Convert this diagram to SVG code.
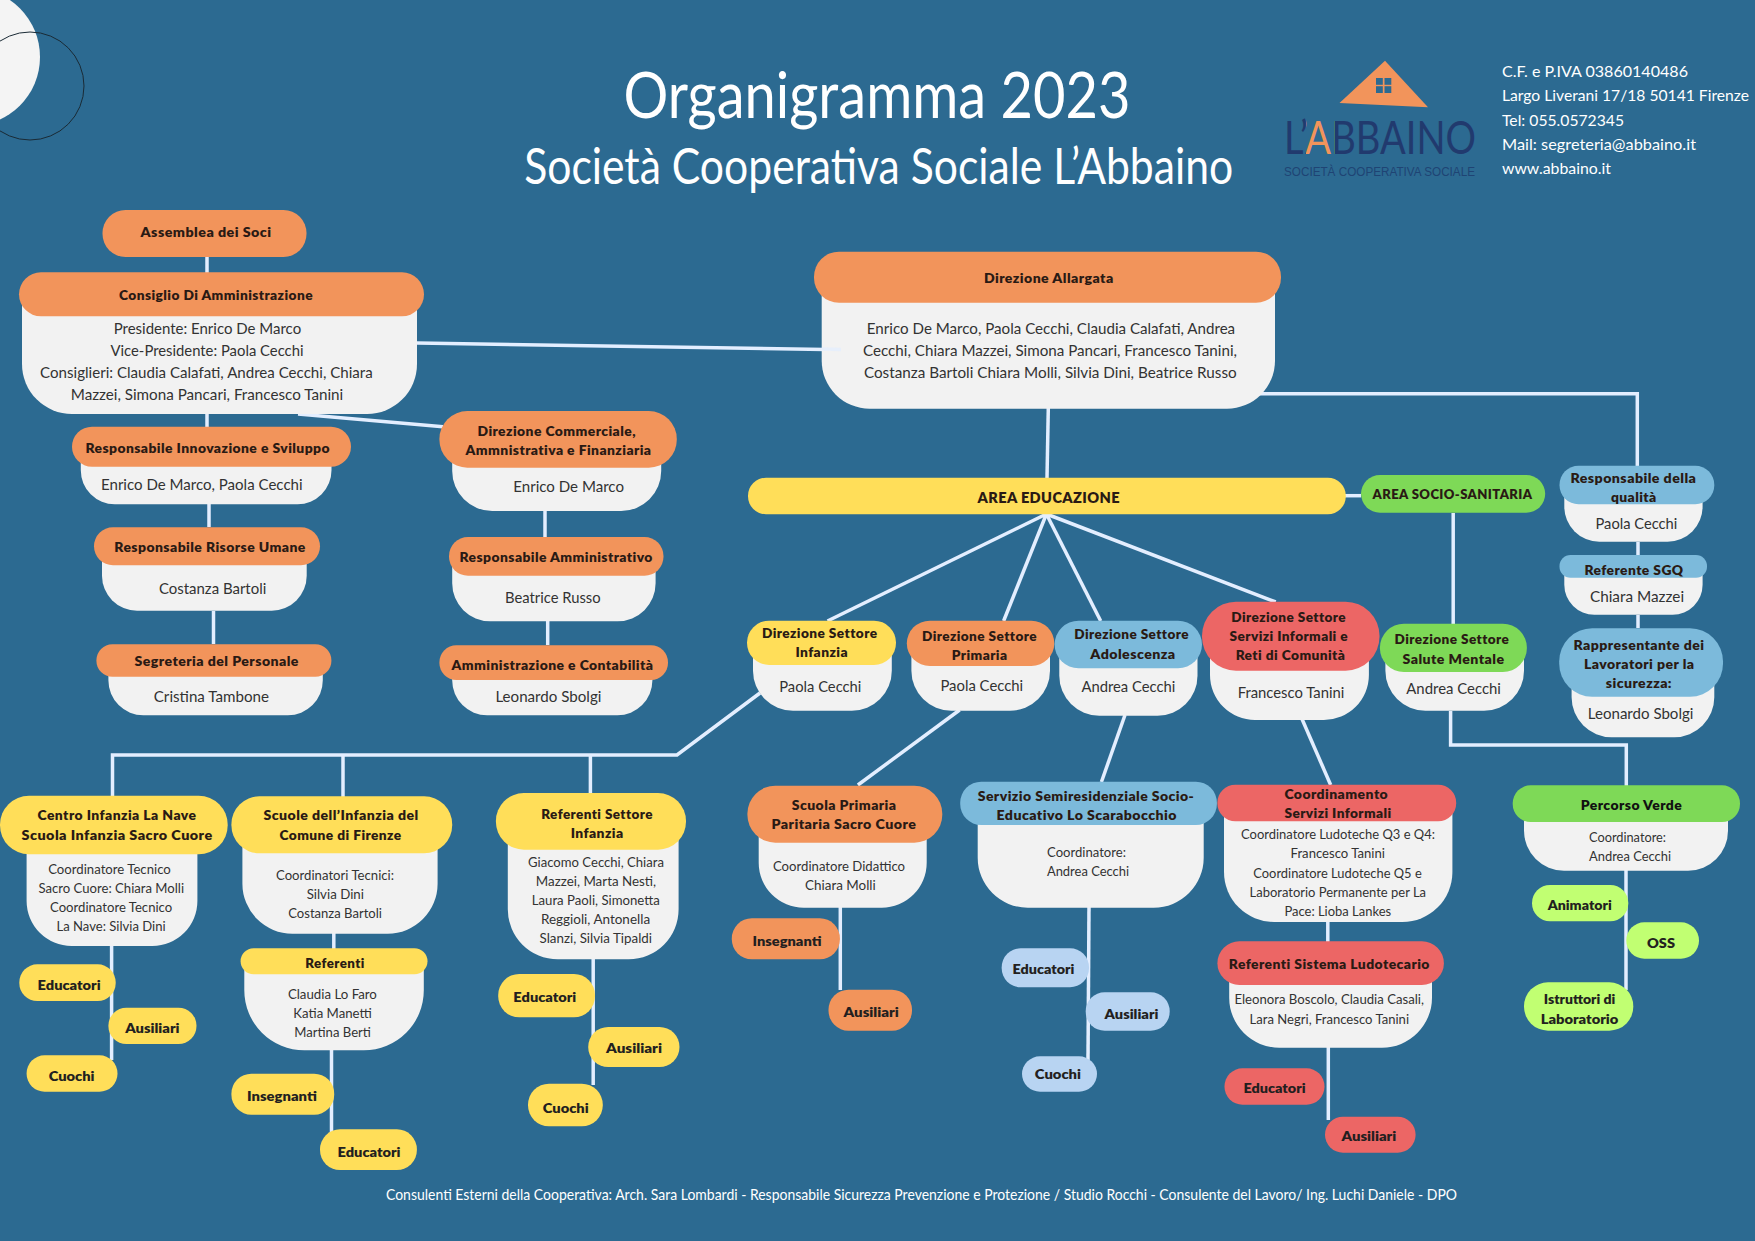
<svg xmlns="http://www.w3.org/2000/svg" width="1755" height="1241" viewBox="0 0 1755 1241">
<style>
text{font-family:"Lato","Noto Sans",sans-serif;text-anchor:middle}
.h,.c,.b,.s{transform:translateY(1px)}
.h{font-size:13px;font-weight:800;fill:#2a1a14;letter-spacing:.4px}
.c{font-size:13px;font-weight:800;fill:#231f20}
.b{font-size:15px;fill:#333}
.s{font-size:14px;fill:#333}
.w{fill:#f2f2f2}
.o{fill:#f2945b}.y{fill:#ffde59}.l{fill:#7cbadb}.r{fill:#ec6665}.g{fill:#7ed957}.p{fill:#b8d4f2}.n{fill:#c1ff72}
.t{fill:#fff;font-weight:400}
.i{fill:#fff;font-size:16px;text-anchor:start}
.line{fill:none;stroke:#e3eeff;stroke-width:3.5}
</style>
<defs>
<linearGradient id="logoFill" gradientUnits="userSpaceOnUse" x1="1284" y1="0" x2="1476" y2="0">
<stop offset=".1146" stop-color="#213a6e"/><stop offset=".1146" stop-color="#f2945b"/><stop offset=".2656" stop-color="#f2945b"/><stop offset=".2656" stop-color="#213a6e"/>
</linearGradient>
</defs>
<rect width="1755" height="1241" fill="#2c6a91"/>
<circle cx="-29" cy="57" r="69" fill="#f4f4f4"/>
<circle cx="30" cy="86" r="54" fill="none" stroke="#1a2a35" stroke-width="1"/>
<text class="t" x="877" y="117.7" font-size="64" textLength="507" lengthAdjust="spacingAndGlyphs">Organigramma 2023</text>
<text class="t" x="878.7" y="184.3" font-size="50" textLength="709" lengthAdjust="spacingAndGlyphs">Società Cooperativa Sociale L’Abbaino</text>
<g id="logo">
<polygon points="1385,60.8 1339.5,103 1428,107.3" fill="#f2945b"/>
<g fill="#2c6a91"><rect x="1376" y="78" width="6.8" height="6.8"/><rect x="1384.5" y="78" width="6.8" height="6.8"/><rect x="1376" y="86.2" width="6.8" height="6.8"/><rect x="1384.5" y="86.2" width="6.8" height="6.8"/></g>
<text x="1380" y="154" font-size="46" fill="url(#logoFill)" textLength="192" lengthAdjust="spacingAndGlyphs">L’ABBAINO</text>
<text x="1379.5" y="175.6" font-size="12" fill="#1f4474" textLength="191" lengthAdjust="spacingAndGlyphs" style="font-family:'Liberation Sans',sans-serif">SOCIETÀ COOPERATIVA SOCIALE</text>
</g>
<g id="contacts">
<text class="i" x="1502" y="76.5" textLength="186" lengthAdjust="spacingAndGlyphs">C.F. e P.IVA 03860140486</text>
<text class="i" x="1502" y="101" textLength="247" lengthAdjust="spacingAndGlyphs">Largo Liverani 17/18 50141 Firenze</text>
<text class="i" x="1502" y="126" textLength="122" lengthAdjust="spacingAndGlyphs">Tel: 055.0572345</text>
<text class="i" x="1502" y="150" textLength="194" lengthAdjust="spacingAndGlyphs">Mail: segreteria@abbaino.it</text>
<text class="i" x="1502" y="173.6" textLength="109" lengthAdjust="spacingAndGlyphs">www.abbaino.it</text>
</g>
<g id="connectors" class="line">
<path d="M207 257V273"/>
<path d="M417 343L841 349.7"/>
<path d="M207 414V427"/>
<path d="M298 414L443 426.7"/>
<path d="M209 504V527"/>
<path d="M213.5 611V644"/>
<path d="M545 511V537"/>
<path d="M547.7 621V645"/>
<path d="M1048.3 408L1047 478"/>
<path d="M1240 393.7H1637.3V466"/>
<path d="M1345 495.7H1361"/>
<path d="M1453.2 513V624"/>
<path d="M1638 542V555"/>
<path d="M1638 615V628"/>
<path d="M1046.4 514L827.5 621"/>
<path d="M1046.4 514L1003.6 621"/>
<path d="M1046.4 514L1100.7 621"/>
<path d="M1046.4 514L1275.7 602"/>
<path d="M760 693L677 755H112.5V796"/>
<path d="M343 755V797"/>
<path d="M590.4 755V793"/>
<path d="M959.6 710L857.9 785"/>
<path d="M1125 715L1101.4 782"/>
<path d="M1302 719L1330.7 785"/>
<path d="M1450.6 711V745H1626.3V786"/>
<path d="M111.6 946V1060"/>
<path d="M333.8 933V949"/>
<path d="M331.5 1050V1135"/>
<path d="M593.2 959V1085"/>
<path d="M840.3 907V990"/>
<path d="M1089 907L1088 1060"/>
<path d="M1327.8 921V942"/>
<path d="M1328.3 1047V1120"/>
<path d="M1626 870V990"/>
</g>

<g id="assemblea"><rect class="o" x="102.5" y="210" width="204" height="47" rx="23"/><text class="h" x="206" y="236" textLength="131" lengthAdjust="spacingAndGlyphs">Assemblea dei Soci</text></g>

<g id="consiglio"><path class="w" d="M22 294H417V364A50 50 0 0 1 367 414H72A50 50 0 0 1 22 364Z"/><rect class="o" x="19" y="272.3" width="405" height="44" rx="22"/>
<text class="h" x="216" y="299.3" textLength="194" lengthAdjust="spacingAndGlyphs">Consiglio Di Amministrazione</text>
<text class="b" x="207.4" y="333.3" textLength="187.5" lengthAdjust="spacingAndGlyphs">Presidente: Enrico De Marco</text>
<text class="b" x="207" y="355.3" textLength="193" lengthAdjust="spacingAndGlyphs">Vice-Presidente: Paola Cecchi</text>
<text class="b" x="206.4" y="377.3" textLength="332.6" lengthAdjust="spacingAndGlyphs">Consiglieri: Claudia Calafati, Andrea Cecchi, Chiara</text>
<text class="b" x="207" y="399.3" textLength="272.5" lengthAdjust="spacingAndGlyphs">Mazzei, Simona Pancari, Francesco Tanini</text></g>

<g id="innovazione"><path class="w" d="M80.8 446H331.5V470A34 34 0 0 1 297.5 504.3H115A34 34 0 0 1 80.8 470Z"/><rect class="o" x="72" y="426.7" width="279" height="40" rx="20"/>
<text class="h" x="207.7" y="452" textLength="244.6" lengthAdjust="spacingAndGlyphs">Responsabile Innovazione e Sviluppo</text>
<text class="b" x="201.8" y="489.3" textLength="201.6" lengthAdjust="spacingAndGlyphs">Enrico De Marco, Paola Cecchi</text></g>

<g id="risorse"><path class="w" d="M102 546H306.7V575.7A35 35 0 0 1 271.7 610.7H137A35 35 0 0 1 102 575.7Z"/><rect class="o" x="94" y="527.3" width="226" height="38" rx="19"/>
<text class="h" x="210" y="551" textLength="191.5" lengthAdjust="spacingAndGlyphs">Responsabile Risorse Umane</text>
<text class="b" x="212.6" y="593.3" textLength="107.4" lengthAdjust="spacingAndGlyphs">Costanza Bartoli</text></g>

<g id="segreteria"><path class="w" d="M108.4 660H322.8V680.3A35 35 0 0 1 287.8 715.3H143.4A35 35 0 0 1 108.4 680.3Z"/><rect class="o" x="96.4" y="644.3" width="235" height="32.4" rx="16"/>
<text class="h" x="216.7" y="665" textLength="164.4" lengthAdjust="spacingAndGlyphs">Segreteria del Personale</text>
<text class="b" x="211.4" y="701" textLength="115.2" lengthAdjust="spacingAndGlyphs">Cristina Tambone</text></g>

<g id="commerciale"><path class="w" d="M452.2 440H661.2V471A40 40 0 0 1 621.2 511H492.2A40 40 0 0 1 452.2 471Z"/><rect class="o" x="439.4" y="411" width="237.4" height="56.7" rx="28"/>
<text class="h" x="556.7" y="435" textLength="158.4" lengthAdjust="spacingAndGlyphs">Direzione Commerciale,</text>
<text class="h" x="558.5" y="454" textLength="185.9" lengthAdjust="spacingAndGlyphs">Ammnistrativa e Finanziaria</text>
<text class="b" x="568.6" y="491" textLength="110.7" lengthAdjust="spacingAndGlyphs">Enrico De Marco</text></g>

<g id="amministrativo"><path class="w" d="M452.2 556H655.6V583.3A38 38 0 0 1 617.6 621.3H490.2A38 38 0 0 1 452.2 583.3Z"/><rect class="o" x="449" y="537" width="214.5" height="38.7" rx="19"/>
<text class="h" x="556.2" y="561" textLength="193.3" lengthAdjust="spacingAndGlyphs">Responsabile Amministrativo</text>
<text class="b" x="552.8" y="602" textLength="95.6" lengthAdjust="spacingAndGlyphs">Beatrice Russo</text></g>

<g id="contabilita"><path class="w" d="M452.2 662H652.4V680.3A35 35 0 0 1 617.4 715.3H487.2A35 35 0 0 1 452.2 680.3Z"/><rect class="o" x="439.4" y="645.3" width="228.6" height="34.7" rx="17"/>
<text class="h" x="552.4" y="669" textLength="202" lengthAdjust="spacingAndGlyphs">Amministrazione e Contabilità</text>
<text class="b" x="548.4" y="701" textLength="106" lengthAdjust="spacingAndGlyphs">Leonardo Sbolgi</text></g>

<g id="allargata"><path class="w" d="M821.7 277H1275V360.7A48 48 0 0 1 1227 408.7H869.7A48 48 0 0 1 821.7 360.7Z"/><rect class="o" x="814" y="251.7" width="467" height="51" rx="25"/>
<text class="h" x="1048.8" y="282.3" textLength="129.7" lengthAdjust="spacingAndGlyphs">Direzione Allargata</text>
<text class="b" x="1051" y="333.3" textLength="368.3" lengthAdjust="spacingAndGlyphs">Enrico De Marco, Paola Cecchi, Claudia Calafati, Andrea</text>
<text class="b" x="1050" y="355.3" textLength="374" lengthAdjust="spacingAndGlyphs">Cecchi, Chiara Mazzei, Simona Pancari, Francesco Tanini,</text>
<text class="b" x="1050.3" y="377.3" textLength="372.7" lengthAdjust="spacingAndGlyphs">Costanza Bartoli Chiara Molli, Silvia Dini, Beatrice Russo</text></g>

<g id="area-educazione"><rect class="y" x="748" y="477.7" width="597.8" height="36.6" rx="18"/><text class="h" style="font-size:15px" x="1048.7" y="502" textLength="142.5" lengthAdjust="spacingAndGlyphs">AREA EDUCAZIONE</text></g>
<g id="area-socio"><rect class="g" x="1361" y="475" width="184.2" height="37.7" rx="19"/><text class="h" x="1452.5" y="498.3" textLength="160" lengthAdjust="spacingAndGlyphs">AREA SOCIO-SANITARIA</text></g>

<g id="dir-infanzia"><path class="w" d="M753 642H891.8V670.7A40 40 0 0 1 851.8 710.7H793A40 40 0 0 1 753 670.7Z"/><rect class="y" x="747" y="620.7" width="149" height="44.3" rx="22"/>
<text class="h" x="819.7" y="637" textLength="115.5" lengthAdjust="spacingAndGlyphs">Direzione Settore</text>
<text class="h" x="821.7" y="656" textLength="52.6" lengthAdjust="spacingAndGlyphs">Infanzia</text>
<text class="b" x="820.3" y="691" textLength="82.1" lengthAdjust="spacingAndGlyphs">Paola Cecchi</text></g>

<g id="dir-primaria"><path class="w" d="M911.4 643H1050V670.7A40 40 0 0 1 1010 710.7H951.4A40 40 0 0 1 911.4 670.7Z"/><rect class="o" x="906.8" y="620.7" width="147.5" height="45.3" rx="23"/>
<text class="h" x="979.5" y="640" textLength="115" lengthAdjust="spacingAndGlyphs">Direzione Settore</text>
<text class="h" x="979.6" y="659" textLength="55.7" lengthAdjust="spacingAndGlyphs">Primaria</text>
<text class="b" x="981.8" y="690" textLength="82.8" lengthAdjust="spacingAndGlyphs">Paola Cecchi</text></g>

<g id="dir-adolescenza"><path class="w" d="M1059.3 644H1197.5V675.7A40 40 0 0 1 1157.5 715.7H1099.3A40 40 0 0 1 1059.3 675.7Z"/><rect class="l" x="1054.6" y="620.7" width="147.4" height="47.6" rx="24"/>
<text class="h" x="1131.6" y="638" textLength="114.7" lengthAdjust="spacingAndGlyphs">Direzione Settore</text>
<text class="h" x="1133" y="658" textLength="85.3" lengthAdjust="spacingAndGlyphs">Adolescenza</text>
<text class="b" x="1128.4" y="691" textLength="94" lengthAdjust="spacingAndGlyphs">Andrea Cecchi</text></g>

<g id="dir-informali"><path class="w" d="M1210 636H1368.9V675A45 45 0 0 1 1323.9 720H1255A45 45 0 0 1 1210 675Z"/><rect class="r" x="1202" y="601.7" width="177.5" height="69" rx="34"/>
<text class="h" x="1288.7" y="620.7" textLength="114.7" lengthAdjust="spacingAndGlyphs">Direzione Settore</text>
<text class="h" x="1288.8" y="640" textLength="118.5" lengthAdjust="spacingAndGlyphs">Servizi Informali e</text>
<text class="h" x="1290.5" y="659" textLength="109.7" lengthAdjust="spacingAndGlyphs">Reti di Comunità</text>
<text class="b" x="1291" y="696.7" textLength="106.7" lengthAdjust="spacingAndGlyphs">Francesco Tanini</text></g>

<g id="dir-salute"><path class="w" d="M1385.4 648H1524V670.7A40 40 0 0 1 1484 710.7H1425.4A40 40 0 0 1 1385.4 670.7Z"/><rect class="g" x="1379.9" y="623.7" width="147" height="48.3" rx="24"/>
<text class="h" x="1451.9" y="643" textLength="114.8" lengthAdjust="spacingAndGlyphs">Direzione Settore</text>
<text class="h" x="1453.5" y="663" textLength="101.9" lengthAdjust="spacingAndGlyphs">Salute Mentale</text>
<text class="b" x="1453.6" y="693.3" textLength="94.6" lengthAdjust="spacingAndGlyphs">Andrea Cecchi</text></g>

<g id="qualita"><path class="w" d="M1564.3 485H1702.6V506.7A35 35 0 0 1 1667.6 541.7H1599.3A35 35 0 0 1 1564.3 506.7Z"/><rect class="l" x="1559.5" y="465.7" width="154.8" height="38.6" rx="19"/>
<text class="h" x="1633.4" y="482" textLength="125.8" lengthAdjust="spacingAndGlyphs">Responsabile della</text>
<text class="h" x="1633.8" y="501" textLength="45.8" lengthAdjust="spacingAndGlyphs">qualità</text>
<text class="b" x="1636.4" y="528.3" textLength="81.8" lengthAdjust="spacingAndGlyphs">Paola Cecchi</text></g>

<g id="sgq"><path class="w" d="M1564.3 566H1702.6V584.7A30 30 0 0 1 1672.6 614.7H1594.3A30 30 0 0 1 1564.3 584.7Z"/><rect class="l" x="1559.5" y="555" width="147.5" height="22.7" rx="11"/>
<text class="h" x="1634" y="573.7" textLength="99" lengthAdjust="spacingAndGlyphs">Referente SGQ</text>
<text class="b" x="1637" y="601.3" textLength="94.2" lengthAdjust="spacingAndGlyphs">Chiara Mazzei</text></g>

<g id="sicurezza"><path class="w" d="M1571.6 662H1714.3V697.3A40 40 0 0 1 1674.3 737.3H1611.6A40 40 0 0 1 1571.6 697.3Z"/><rect class="l" x="1559.2" y="628.3" width="163.8" height="68.4" rx="33"/>
<text class="h" x="1639" y="649" textLength="130.9" lengthAdjust="spacingAndGlyphs">Rappresentante dei</text>
<text class="h" x="1639.2" y="668" textLength="110.5" lengthAdjust="spacingAndGlyphs">Lavoratori per la</text>
<text class="h" x="1638.9" y="687" textLength="66.3" lengthAdjust="spacingAndGlyphs">sicurezza:</text>
<text class="b" x="1640.6" y="718.3" textLength="105.6" lengthAdjust="spacingAndGlyphs">Leonardo Sbolgi</text></g>

<g id="centro-infanzia"><path class="w" d="M26.6 825H197.4V901A45 45 0 0 1 152.4 946H71.6A45 45 0 0 1 26.6 901Z"/><rect class="y" x="0" y="795.7" width="227.7" height="58.6" rx="29"/>
<text class="h" x="117" y="819" textLength="158.9" lengthAdjust="spacingAndGlyphs">Centro Infanzia La Nave</text>
<text class="h" x="117.1" y="839.3" textLength="191" lengthAdjust="spacingAndGlyphs">Scuola Infanzia Sacro Cuore</text>
<text class="s" x="109.5" y="872.7" textLength="122.6" lengthAdjust="spacingAndGlyphs">Coordinatore Tecnico</text>
<text class="s" x="111.3" y="891.7" textLength="145.5" lengthAdjust="spacingAndGlyphs">Sacro Cuore: Chiara Molli</text>
<text class="s" x="111.1" y="910.7" textLength="122.2" lengthAdjust="spacingAndGlyphs">Coordinatore Tecnico</text>
<text class="s" x="111.1" y="930.3" textLength="109.2" lengthAdjust="spacingAndGlyphs">La Nave: Silvia Dini</text></g>
<g id="c1-educatori"><rect class="y" x="19.3" y="964.3" width="96.4" height="36.7" rx="18"/><text class="c" x="69.1" y="988.7" textLength="63" lengthAdjust="spacingAndGlyphs">Educatori</text></g>
<g id="c1-ausiliari"><rect class="y" x="108.4" y="1007.7" width="88.1" height="36.3" rx="18"/><text class="c" x="152.4" y="1032" textLength="54.2" lengthAdjust="spacingAndGlyphs">Ausiliari</text></g>
<g id="c1-cuochi"><rect class="y" x="26.6" y="1055.3" width="90.9" height="36.4" rx="18"/><text class="c" x="71.6" y="1080" textLength="45.9" lengthAdjust="spacingAndGlyphs">Cuochi</text></g>

<g id="scuole-infanzia"><path class="w" d="M242.4 825H437.6V883.7A50 50 0 0 1 387.6 933.7H292.4A50 50 0 0 1 242.4 883.7Z"/><rect class="y" x="231.4" y="796.3" width="220.8" height="57" rx="28"/>
<text class="h" x="341.1" y="819" textLength="155.2" lengthAdjust="spacingAndGlyphs">Scuole dell’Infanzia del</text>
<text class="h" x="340.6" y="839.3" textLength="122.1" lengthAdjust="spacingAndGlyphs">Comune di Firenze</text>
<text class="s" x="335" y="879" textLength="118" lengthAdjust="spacingAndGlyphs">Coordinatori Tecnici:</text>
<text class="s" x="335.3" y="898" textLength="57.3" lengthAdjust="spacingAndGlyphs">Silvia Dini</text>
<text class="s" x="335.1" y="917" textLength="93.7" lengthAdjust="spacingAndGlyphs">Costanza Bartoli</text></g>
<g id="referenti"><path class="w" d="M244.3 961H423.8V990.3A60 60 0 0 1 363.8 1050.3H304.3A60 60 0 0 1 244.3 990.3Z"/><rect class="y" x="240.6" y="948.3" width="186.9" height="26" rx="13"/>
<text class="h" x="335" y="967" textLength="59.3" lengthAdjust="spacingAndGlyphs">Referenti</text>
<text class="s" x="332.4" y="998" textLength="89" lengthAdjust="spacingAndGlyphs">Claudia Lo Faro</text>
<text class="s" x="332.6" y="1017" textLength="78.5" lengthAdjust="spacingAndGlyphs">Katia Manetti</text>
<text class="s" x="332.6" y="1036" textLength="76.7" lengthAdjust="spacingAndGlyphs">Martina Berti</text></g>
<g id="c2-insegnanti"><rect class="y" x="231.4" y="1073.7" width="102.8" height="41" rx="20"/><text class="c" x="281.9" y="1100" textLength="69.8" lengthAdjust="spacingAndGlyphs">Insegnanti</text></g>
<g id="c2-educatori"><rect class="y" x="320" y="1129.3" width="96.9" height="40.7" rx="20"/><text class="c" x="369" y="1156.3" textLength="63" lengthAdjust="spacingAndGlyphs">Educatori</text></g>

<g id="referenti-settore"><path class="w" d="M507.8 821H678.6V909.3A50 50 0 0 1 628.6 959.3H557.8A50 50 0 0 1 507.8 909.3Z"/><rect class="y" x="495.9" y="793" width="190.1" height="56.7" rx="28"/>
<text class="h" x="597.1" y="817.7" textLength="111.6" lengthAdjust="spacingAndGlyphs">Referenti Settore</text>
<text class="h" x="597.1" y="837" textLength="52.8" lengthAdjust="spacingAndGlyphs">Infanzia</text>
<text class="s" x="596" y="866" textLength="135.9" lengthAdjust="spacingAndGlyphs">Giacomo Cecchi, Chiara</text>
<text class="s" x="596" y="885" textLength="120.3" lengthAdjust="spacingAndGlyphs">Mazzei, Marta Nesti,</text>
<text class="s" x="595.8" y="904" textLength="128.1" lengthAdjust="spacingAndGlyphs">Laura Paoli, Simonetta</text>
<text class="s" x="595.5" y="923" textLength="109.2" lengthAdjust="spacingAndGlyphs">Reggioli, Antonella</text>
<text class="s" x="595.8" y="942" textLength="112.5" lengthAdjust="spacingAndGlyphs">Slanzi, Silvia Tipaldi</text></g>
<g id="c3-educatori"><rect class="y" x="498.2" y="974" width="96.8" height="43.3" rx="21"/><text class="c" x="544.8" y="1001.3" textLength="62.9" lengthAdjust="spacingAndGlyphs">Educatori</text></g>
<g id="c3-ausiliari"><rect class="y" x="588.2" y="1027" width="91.3" height="40" rx="20"/><text class="c" x="634" y="1052" textLength="56" lengthAdjust="spacingAndGlyphs">Ausiliari</text></g>
<g id="c3-cuochi"><rect class="y" x="528" y="1083.7" width="74.8" height="42.6" rx="21"/><text class="c" x="565.7" y="1112" textLength="45.9" lengthAdjust="spacingAndGlyphs">Cuochi</text></g>

<g id="scuola-primaria"><path class="w" d="M758.7 815H926.7V862.7A45 45 0 0 1 881.7 907.7H803.7A45 45 0 0 1 758.7 862.7Z"/><rect class="o" x="747.4" y="785.7" width="194.9" height="57" rx="28"/>
<text class="h" x="844.1" y="809" textLength="104.8" lengthAdjust="spacingAndGlyphs">Scuola Primaria</text>
<text class="h" x="843.9" y="828" textLength="144.9" lengthAdjust="spacingAndGlyphs">Paritaria Sacro Cuore</text>
<text class="s" x="839" y="870" textLength="132.1" lengthAdjust="spacingAndGlyphs">Coordinatore Didattico</text>
<text class="s" x="840.4" y="889" textLength="70.7" lengthAdjust="spacingAndGlyphs">Chiara Molli</text></g>
<g id="c4-insegnanti"><rect class="o" x="731.8" y="918.3" width="108.1" height="41" rx="20"/><text class="c" x="787" y="945" textLength="68.9" lengthAdjust="spacingAndGlyphs">Insegnanti</text></g>
<g id="c4-ausiliari"><rect class="o" x="828.5" y="989.7" width="83.5" height="41" rx="20"/><text class="c" x="871.2" y="1016" textLength="55.3" lengthAdjust="spacingAndGlyphs">Ausiliari</text></g>

<g id="scarabocchio"><path class="w" d="M977.7 803H1203.7V857.7A50 50 0 0 1 1153.7 907.7H1027.7A50 50 0 0 1 977.7 857.7Z"/><rect class="l" x="960.2" y="781.7" width="256.7" height="43.3" rx="21"/>
<text class="h" x="1086" y="800" textLength="216.6" lengthAdjust="spacingAndGlyphs">Servizio Semiresidenziale Socio-</text>
<text class="h" x="1086.7" y="819" textLength="180.3" lengthAdjust="spacingAndGlyphs">Educativo Lo Scarabocchio</text>
<text class="s" x="1086.5" y="856" textLength="78.9" lengthAdjust="spacingAndGlyphs">Coordinatore:</text>
<text class="s" x="1088" y="875" textLength="82.2" lengthAdjust="spacingAndGlyphs">Andrea Cecchi</text></g>
<g id="c5-educatori"><rect class="p" x="1001.7" y="948.3" width="87.3" height="39" rx="19"/><text class="c" x="1043.5" y="973" textLength="61.8" lengthAdjust="spacingAndGlyphs">Educatori</text></g>
<g id="c5-ausiliari"><rect class="p" x="1085.7" y="992.3" width="84" height="38.4" rx="19"/><text class="c" x="1131.5" y="1018" textLength="53.8" lengthAdjust="spacingAndGlyphs">Ausiliari</text></g>
<g id="c5-cuochi"><rect class="p" x="1022" y="1056.3" width="75" height="35.4" rx="18"/><text class="c" x="1057.9" y="1078" textLength="46.2" lengthAdjust="spacingAndGlyphs">Cuochi</text></g>

<g id="coordinamento"><path class="w" d="M1224 803H1452.4V872A50 50 0 0 1 1402.4 922H1274A50 50 0 0 1 1224 872Z"/><rect class="r" x="1217.4" y="784.7" width="238.8" height="36.6" rx="18"/>
<text class="h" x="1336.3" y="798" textLength="103.8" lengthAdjust="spacingAndGlyphs">Coordinamento</text>
<text class="h" x="1338" y="817" textLength="107.2" lengthAdjust="spacingAndGlyphs">Servizi Informali</text>
<text class="s" x="1338" y="838" textLength="194" lengthAdjust="spacingAndGlyphs">Coordinatore Ludoteche Q3 e Q4:</text>
<text class="s" x="1337.8" y="857" textLength="94.4" lengthAdjust="spacingAndGlyphs">Francesco Tanini</text>
<text class="s" x="1337.5" y="877" textLength="168.4" lengthAdjust="spacingAndGlyphs">Coordinatore Ludoteche Q5 e</text>
<text class="s" x="1337.8" y="896" textLength="176.5" lengthAdjust="spacingAndGlyphs">Laboratorio Permanente per La</text>
<text class="s" x="1337.8" y="915" textLength="106.7" lengthAdjust="spacingAndGlyphs">Pace: Lioba Lankes</text></g>
<g id="ludotecario"><path class="w" d="M1229.2 963H1432V997.7A50 50 0 0 1 1382 1047.7H1279.2A50 50 0 0 1 1229.2 997.7Z"/><rect class="r" x="1217.4" y="941.3" width="226.5" height="43.7" rx="22"/>
<text class="h" x="1329.3" y="968" textLength="201" lengthAdjust="spacingAndGlyphs">Referenti Sistema Ludotecario</text>
<text class="s" x="1329.2" y="1003" textLength="189.6" lengthAdjust="spacingAndGlyphs">Eleonora Boscolo, Claudia Casali,</text>
<text class="s" x="1329.3" y="1023" textLength="159.5" lengthAdjust="spacingAndGlyphs">Lara Negri, Francesco Tanini</text></g>
<g id="c6-educatori"><rect class="r" x="1224.5" y="1068.3" width="100" height="36.4" rx="18"/><text class="c" x="1274.5" y="1092" textLength="62.2" lengthAdjust="spacingAndGlyphs">Educatori</text></g>
<g id="c6-ausiliari"><rect class="r" x="1325" y="1116.7" width="90.6" height="36" rx="18"/><text class="c" x="1368.9" y="1140" textLength="54.8" lengthAdjust="spacingAndGlyphs">Ausiliari</text></g>

<g id="percorso"><path class="w" d="M1524 803H1728V830.7A40 40 0 0 1 1688 870.7H1564A40 40 0 0 1 1524 830.7Z"/><rect class="g" x="1512.7" y="785.3" width="227.3" height="36.7" rx="18"/>
<text class="h" style="fill:#111" x="1631.5" y="809" textLength="101.6" lengthAdjust="spacingAndGlyphs">Percorso Verde</text>
<text class="s" x="1627.5" y="841.3" textLength="77" lengthAdjust="spacingAndGlyphs">Coordinatore:</text>
<text class="s" x="1630" y="860.3" textLength="82" lengthAdjust="spacingAndGlyphs">Andrea Cecchi</text></g>
<g id="animatori"><rect class="n" x="1532" y="885" width="96.3" height="36.3" rx="18"/><text class="c" x="1579.7" y="909" textLength="64" lengthAdjust="spacingAndGlyphs">Animatori</text></g>
<g id="oss"><rect class="n" x="1626.3" y="922.3" width="72.7" height="36.4" rx="18"/><text class="c" x="1661" y="946.7" textLength="28" lengthAdjust="spacingAndGlyphs">OSS</text></g>
<g id="istruttori"><rect class="n" x="1524" y="982.3" width="109.3" height="48.4" rx="24"/>
<text class="c" x="1579.5" y="1003" textLength="71.6" lengthAdjust="spacingAndGlyphs">Istruttori di</text>
<text class="c" x="1579.5" y="1023" textLength="77.6" lengthAdjust="spacingAndGlyphs">Laboratorio</text></g>

<g id="connector-overlap"><path class="line" d="M822 349.1L841 349.4" stroke-opacity=".7"/></g>
<text x="921.5" y="1200" font-size="15" fill="#fff" textLength="1071" lengthAdjust="spacingAndGlyphs">Consulenti Esterni della Cooperativa: Arch. Sara Lombardi - Responsabile Sicurezza Prevenzione e Protezione / Studio Rocchi - Consulente del Lavoro/ Ing. Luchi Daniele - DPO</text>
</svg>
